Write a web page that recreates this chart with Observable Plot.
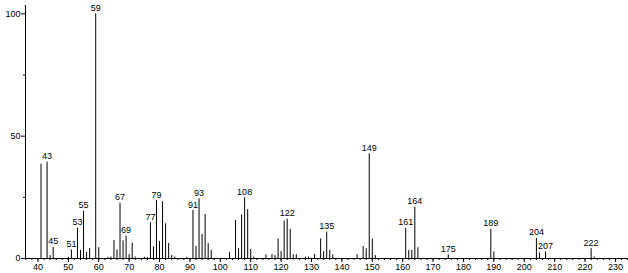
<!DOCTYPE html>
<html><head><meta charset="utf-8">
<script src="https://cdn.jsdelivr.net/npm/d3@7"></script>
<script src="https://cdn.jsdelivr.net/npm/@observablehq/plot@0.6"></script>
<style>body{margin:0;background:#fff}</style>
</head><body><div id="chart"></div>
<script>
const mz = [41,43,44,45,50,51,53,54,55,56,57,59,60,63,64,65,66,67,68,69,70,71,72,75,76,77,78,79,80,81,82,83,84,85,89,91,92,93,94,95,96,97,103,105,106,107,108,109,110,111,115,117,118,119,120,121,122,123,124,125,128,129,131,133,134,135,136,137,145,147,148,149,150,151,161,162,163,164,165,175,189,190,204,205,207,222,223];
const intensity = [38.5,39.4,1.2,4.5,0.5,3.5,12.4,3.3,19.3,2.5,4,100,4.4,0.5,0.6,7.4,3.5,22.6,7.2,9.1,1.6,6.3,0.6,0.5,0.4,14.6,4.8,23.7,7,23.2,14.2,6.1,1.2,0.6,0.5,19.6,4.9,24.4,9.8,18,6.1,3.3,2.5,15.5,4,17.8,24.8,20,3.7,0.6,1.4,1.6,1.2,8,2.8,15.3,16.1,11.9,1.5,1.5,0.6,0.6,1.6,8,2.8,10.8,3.3,1.5,1.5,4.9,4,42.8,8,1.2,12.3,3.3,3.3,21,4.4,1.5,11.9,2.7,8.2,2.3,2.7,4,0.6];
const labeled = [43,45,51,53,55,59,67,69,77,79,91,93,108,122,135,149,161,164,175,189,204,207,222];
const xDomain = [35.9, 234.3];
const yDomain = [0, 103.4];
const xTicks = d3.range(40, 231, 10);
const xMinor = d3.range(36, 235, 2);
const yTicks = [0, 50, 100];
const yMinor = [25, 75];

const data = mz.map((m, i) => ({mz: m, v: intensity[i]}));
const labelData = data.filter(d => labeled.includes(d.mz));

const chart = Plot.plot({
  width: 628, height: 273,
  marginLeft: 25, marginRight: 0, marginTop: 5, marginBottom: 15,
  x: {domain: xDomain},
  y: {domain: yDomain},
  style: {fontFamily: "'Liberation Sans', Arial, sans-serif", fontSize: "9px", background: "#fff", color: "#000"},
  marks: [
    Plot.ruleX([xDomain[0]], {stroke: "#000"}),
    Plot.ruleY([0], {stroke: "#000"}),
    Plot.axisX({ticks: xMinor, tickSize: 2, text: null, label: null}),
    Plot.axisX({ticks: xTicks, tickSize: 4, tickPadding: 1, label: null}),
    Plot.axisY({ticks: yMinor, tickSize: 2, text: null, label: null}),
    Plot.axisY({ticks: yTicks, tickSize: 4, tickPadding: 1, label: null}),
    Plot.ruleX(data, {x: "mz", y1: 0, y2: "v", stroke: "#000", strokeWidth: 1}),
    Plot.text(labelData, {x: "mz", y: "v", text: d => String(d.mz), lineAnchor: "bottom", dy: -3, fill: "#000"})
  ]
});
document.getElementById("chart").appendChild(chart);
</script>
</body></html>
